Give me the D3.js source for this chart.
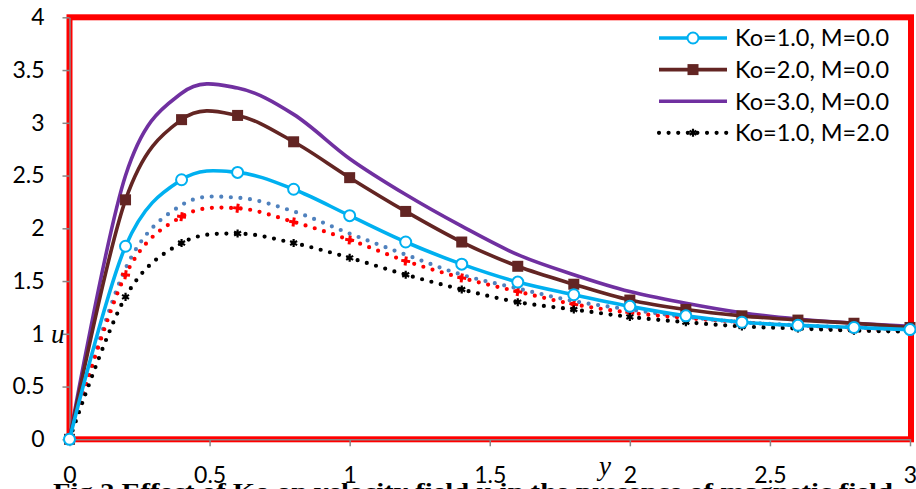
<!DOCTYPE html>
<html lang="en">
<head>
  <meta charset="UTF-8" />
  <title>Effect of Ko on velocity field u</title>
  <script src="https://d3js.org/d3.v7.min.js"></script>
  <style>
    body { margin: 0; background: white; overflow: hidden; }
    svg { display: block; }
    .tick text { font-family: Lato, sans-serif; font-size: 23px; fill: #000; }
    .legend text { font-family: Lato, sans-serif; font-size: 23.5px; fill: #000; }
  </style>
</head>
<body>
<svg id="chart" width="916" height="489"></svg>

<script>
const width = 916, height = 489;

// Data
const yPos = [0, 0.2, 0.4, 0.6, 0.8, 1.0, 1.2, 1.4, 1.6, 1.8, 2.0, 2.2, 2.4, 2.6, 2.8, 3.0];
const ko1m0 = [0, 1.83, 2.46, 2.53, 2.37, 2.12, 1.87, 1.66, 1.49, 1.37, 1.26, 1.17, 1.11, 1.08, 1.06, 1.04];
const ko2m0 = [0, 2.27, 3.03, 3.07, 2.82, 2.48, 2.16, 1.87, 1.64, 1.47, 1.32, 1.23, 1.17, 1.13, 1.10, 1.06];
const ko3m0 = [0, 2.50, 3.28, 3.33, 3.08, 2.66, 2.32, 2.02, 1.75, 1.56, 1.40, 1.29, 1.20, 1.14, 1.10, 1.07];
const ko1m2 = [0, 1.35, 1.86, 1.95, 1.86, 1.72, 1.56, 1.42, 1.30, 1.23, 1.16, 1.11, 1.07, 1.05, 1.03, 1.02];
const ko2m2 = [0, 1.62, 2.22, 2.29, 2.16, 1.95, 1.75, 1.56, 1.43, 1.31, 1.23, 1.16, 1.11, 1.08, 1.06, 1.04];
const ko3m2 = [0, 1.56, 2.11, 2.19, 2.06, 1.89, 1.69, 1.53, 1.40, 1.28, 1.20, 1.15, 1.11, 1.07, 1.04, 1.03];

const xTicks = [0, 0.5, 1, 1.5, 2, 2.5, 3];
const yTicks = [0, 0.5, 1, 1.5, 2, 2.5, 3, 3.5, 4];

const legendLabels = ["Ko=1.0, M=0.0", "Ko=2.0, M=0.0", "Ko=3.0, M=0.0", "Ko=1.0, M=2.0"];

const svg = d3.select("#chart");

const x = d3.scaleLinear().domain([0, 3]).range([69.5, 910]);
const y = d3.scaleLinear().domain([0, 4]).range([439.3, 17.3]);

// red frame around plot area
svg.append("rect")
  .attr("x", x(0)).attr("y", y(4))
  .attr("width", x(3) - x(0) + 1).attr("height", y(0) - y(4))
  .attr("fill", "none")
  .attr("stroke", "#ff0000")
  .attr("stroke-width", 6);

// axes
svg.append("g")
  .attr("transform", `translate(${x(0)},0)`)
  .call(d3.axisLeft(y).tickValues(yTicks).tickSize(7).tickSizeOuter(0).tickPadding(18).tickFormat(d => d));
svg.append("g")
  .attr("transform", `translate(0,${y(0)})`)
  .call(d3.axisBottom(x).tickValues(xTicks).tickSize(7).tickSizeOuter(0).tickPadding(20).tickFormat(d => d));
svg.selectAll(".domain, .tick line").attr("stroke", "#888").attr("stroke-width", 1.5);

// axis titles
svg.append("text")
  .attr("x", 51).attr("y", 343)
  .attr("font-family", "Liberation Serif, serif").attr("font-style", "italic")
  .attr("font-size", 27).text("u");
svg.append("text")
  .attr("x", 599).attr("y", 475)
  .attr("font-family", "Liberation Serif, serif").attr("font-style", "italic")
  .attr("font-size", 27).text("y");

// caption (cut off at the bottom, as in the figure)
svg.append("text")
  .attr("x", 53).attr("y", 499)
  .attr("font-family", "Liberation Serif, serif").attr("font-weight", "bold")
  .attr("font-size", 24)
  .attr("textLength", 840).attr("lengthAdjust", "spacingAndGlyphs")
  .text("Fig.2 Effect of Ko on velocity field u in the presence of magnetic field");

const line = d3.line()
  .x((d, i) => x(yPos[i]))
  .y(d => y(d))
  .curve(d3.curveCardinal.tension(0));

const series = [
  { vals: ko2m2, color: "#4f81bd", dotted: true, marker: null },
  { vals: ko3m2, color: "#ff0000", dotted: true, marker: "cross" },
  { vals: ko1m2, color: "#000000", dotted: true, marker: "star" },
  { vals: ko3m0, color: "#7030a0", dotted: false, marker: null },
  { vals: ko2m0, color: "#632523", dotted: false, marker: "square" },
  { vals: ko1m0, color: "#00b0f0", dotted: false, marker: "circle" }
];

function drawMarker(g, type, color, cx, cy) {
  if (type === "circle") {
    g.append("circle").attr("cx", cx).attr("cy", cy).attr("r", 5.5)
      .attr("fill", "white").attr("stroke", color).attr("stroke-width", 2);
  } else if (type === "square") {
    g.append("rect").attr("x", cx - 5.5).attr("y", cy - 5.5).attr("width", 11).attr("height", 11)
      .attr("fill", color);
  } else if (type === "cross") {
    g.append("path").attr("d", d3.symbol(d3.symbolCross, 45)())
      .attr("transform", `translate(${cx},${cy}) rotate(8)`).attr("fill", color);
  } else if (type === "star") {
    g.append("path").attr("d", d3.symbol(d3.symbolAsterisk, 45)())
      .attr("transform", `translate(${cx},${cy})`).attr("fill", "none")
      .attr("stroke", color).attr("stroke-width", 2.2);
  }
}

series.forEach(s => {
  const g = svg.append("g");
  const p = g.append("path")
    .attr("d", line(s.vals))
    .attr("fill", "none")
    .attr("stroke", s.color);
  if (s.dotted) {
    p.attr("stroke-width", 4.2).attr("stroke-linecap", "round").attr("stroke-dasharray", "0 9.6");
  } else {
    p.attr("stroke-width", 3.6);
  }
  if (s.marker) {
    s.vals.forEach((v, i) => drawMarker(g, s.marker, s.color, x(yPos[i]), y(v)));
  }
});

// legend
const legendSeries = [series[5], series[4], series[3], series[2]];
const legend = svg.append("g").attr("class", "legend");
legendSeries.forEach((s, i) => {
  const ly = 38 + i * 31.6;
  const l = legend.append("line")
    .attr("x1", 659).attr("x2", 727).attr("y1", ly).attr("y2", ly)
    .attr("stroke", s.color);
  if (s.dotted) {
    l.attr("stroke-width", 4.2).attr("stroke-linecap", "round").attr("stroke-dasharray", "0 9.6");
  } else {
    l.attr("stroke-width", 3.6);
  }
  if (s.marker) drawMarker(legend, s.marker, s.color, 693, ly);
  legend.append("text").attr("x", 735).attr("y", ly).attr("dy", "0.36em").text(legendLabels[i]);
});
</script>
</body>
</html>
